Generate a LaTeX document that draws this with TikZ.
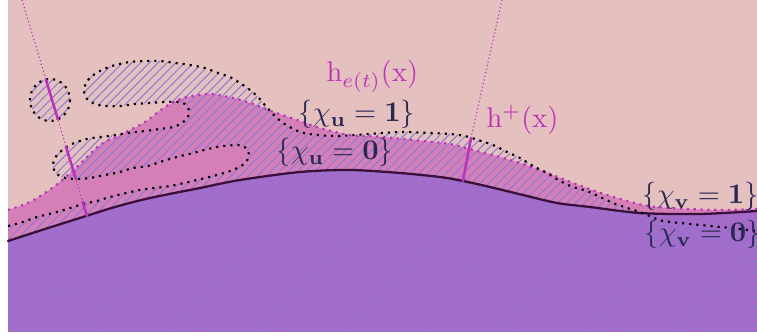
\documentclass[tikz,border=0pt]{standalone}
\usepackage{amsmath,amssymb}
\usepackage{xcolor}
\usepackage{tikz}
\usetikzlibrary{patterns.meta}
\definecolor{fbBack}{HTML}{E4C0BF}
\definecolor{fbPink}{HTML}{D57FB8}
\definecolor{fbPurple}{HTML}{A66AC8}
\definecolor{fbHatch}{HTML}{8A7CD6}
\definecolor{fbInk}{HTML}{3A0F3A}
\definecolor{fbMagenta}{HTML}{BC32BC}
\definecolor{fbNavy}{HTML}{2A2852}
\tikzset{
  fb diagram/.style={x=0.3515pt, y=-0.3515pt, line cap=round, line join=round},
  fb graph/.style={draw=fbInk, line width=0.8pt},
  fb front/.style={draw=fbMagenta, line width=0.75pt, line cap=butt,
    dash pattern=on 0.75pt off 1.65pt},
  fb level/.style={draw=black, line width=0.75pt, line cap=butt,
    dash pattern=on 0.75pt off 1.75pt},
  fb ray/.style={draw=fbMagenta, line width=0.4pt, line cap=butt,
    dash pattern=on 0.4pt off 0.9pt},
  fb ray seg/.style={draw=fbMagenta, line width=0.9pt},
  fb hatch/.style={pattern={Lines[angle=45,distance=2.2pt,line width=0.35pt]},
    pattern color=fbHatch},
  fb front label/.style={text=fbMagenta, inner sep=0pt, anchor=base west},
  fb set label/.style={text=fbNavy, inner sep=0pt, anchor=base west}
}
% the graph, the front h_{e(t)} and the level line of chi_u
\newcommand\fbGraph{plot[smooth] coordinates {(8,241) (45,229) (83,217) (115,207)
  (150,198) (200,188) (240,180) (300,172) (350,170) (400,173) (440,177) (463,181)
  (490,187) (523,195) (557,203) (590,207) (640,213) (700,214) (757,211)}}
\newcommand\fbFront{plot[smooth] coordinates {(8,210) (30,202) (55,186) (78,166)
  (100,145) (120,135) (145,122) (165,107) (183,98) (200,95) (212,94) (233,98)
  (250,103) (268,110) (297,120) (320,128) (350,135) (383,137) (423,141) (450,144)
  (473,150) (507,159) (540,170) (573,183) (607,195) (643,205) (670,208) (720,210)
  (757,209)}}
\newcommand\fbLevel{plot[smooth] coordinates {(8,226) (23,222) (37,217) (53,213)
  (67,209) (83,204) (97,201) (110,197) (140,190) (170,186) (197,180) (217,175)
  (233,170) (244,164) (249,156) (246,148) (238,145) (217,147) (193,153) (177,157)
  (163,161) (148,166) (133,168) (120,172) (105,175) (90,178) (75,179) (62,177)
  (55,172) (53,165) (55,158) (60,152) (72,144) (87,139) (108,136) (128,133)
  (145,131) (160,129) (173,127) (182,123) (188,117) (189,110) (185,104) (178,102)
  (165,102) (150,103) (135,104) (120,106) (105,106) (95,104) (87,99) (84,91)
  (86,83) (92,76) (102,70) (115,65) (130,62) (145,61) (160,61) (175,63) (190,65)
  (205,68) (218,73) (230,77) (240,83) (250,90) (258,97) (264,104) (271,112)
  (283,123) (300,132) (317,135) (337,136) (355,135) (383,133) (403,132) (430,133)
  (450,134) (465,136) (478,140) (493,145) (507,152) (520,158) (533,166) (547,173)
  (560,181) (573,187) (587,191) (600,197) (613,203) (627,208) (640,212) (652,217)
  (663,221) (690,224) (710,226) (730,228) (757,231)}}

\begin{document}
\begin{tikzpicture}[fb diagram]
\useasboundingbox (0,0) rectangle (757,336);
\fill[fbBack] (8,0) rectangle (757,332);
\fill[fbPink] \fbFront -- (757,332) -- (8,332) -- cycle;
\fill[fbPurple] \fbGraph -- (757,332) -- (8,332) -- cycle;
% hatched set
\path[fb hatch] \fbLevel -- (757,332) -- (8,332) -- cycle;
\path[fb hatch] (50,100) ellipse [x radius=20, y radius=21];
\draw[fb graph] \fbGraph;
\draw[fb front] \fbFront;
\draw[fb level] \fbLevel;
\draw[fb level] (50,100) ellipse [x radius=20, y radius=21];
% rays
\coordinate (rayA top) at (22,0);
\coordinate (rayA foot) at (87,216);
\coordinate (rayB top) at (502,0);
\coordinate (rayB cut) at (471,138);
\coordinate (rayB foot) at (463,181);
\draw[fb ray] (rayA top) -- (rayA foot);
\draw[fb ray seg] (45.9,79.5) -- (57.9,119.3);
\draw[fb ray seg] (66,147) -- (76,179);
\draw[fb ray seg] (82.5,202) -- (rayA foot);
\draw[fb ray] (rayB top) -- (rayB cut);
\draw[fb ray seg] (rayB cut) -- (rayB foot);
% labels
\node[fb front label] (hfront) at (326,82) {$\mathrm{h}_{e(t)}(\mathrm{x})$};
\node[fb front label] (hplus) at (486,128) {$\mathrm{h}^{+}(\mathrm{x})$};
\node[fb set label] (uone) at (298,122) {$\{\chi_{\mathbf{u}}=\mathbf{1}\}$};
\node[fb set label] (uzero) at (276,160) {$\{\chi_{\mathbf{u}}=\mathbf{0}\}$};
\node[fb set label] (vone) at (642,204) {$\{\chi_{\mathbf{v}}=\mathbf{1}\}$};
\node[fb set label] (vzero) at (644,242) {$\{\chi_{\mathbf{v}}=\mathbf{0}\}$};
\end{tikzpicture}
\end{document}
